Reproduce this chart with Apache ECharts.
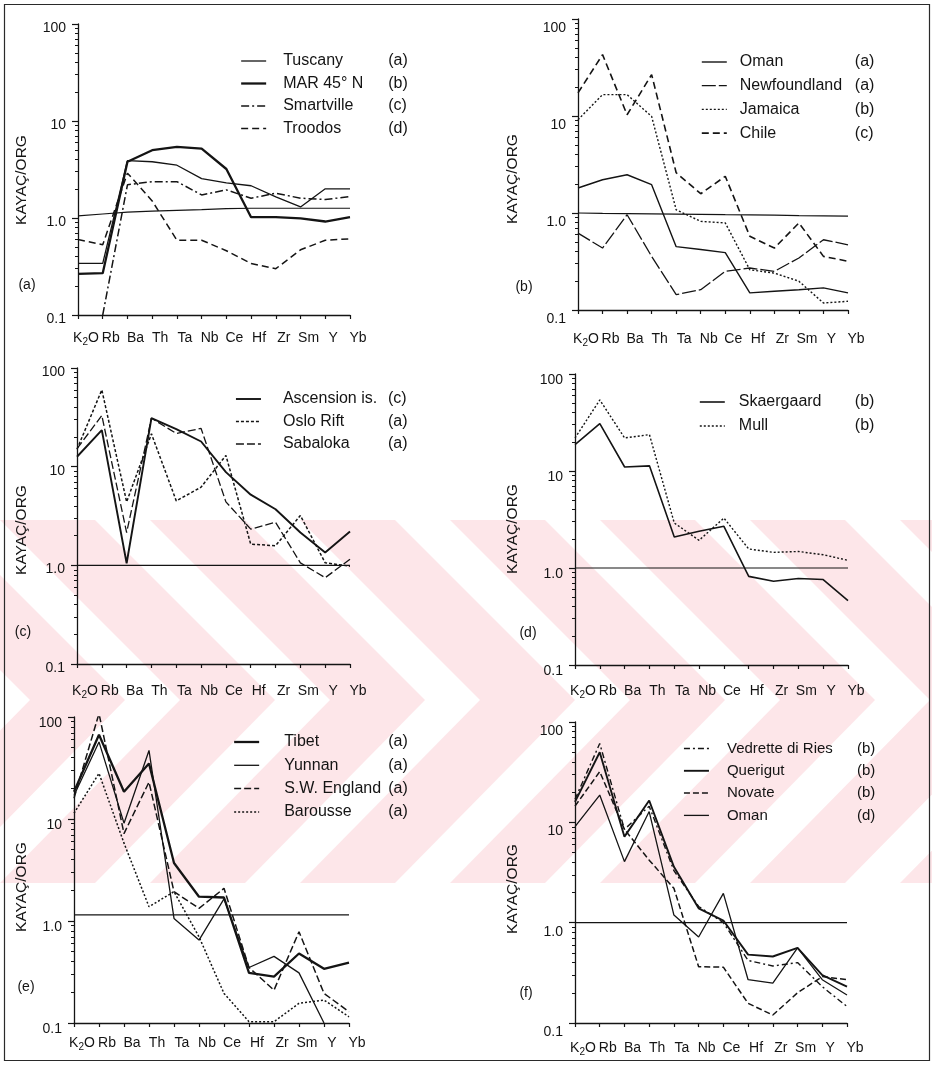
<!DOCTYPE html>
<html>
<head>
<meta charset="utf-8">
<script src="https://cdn.jsdelivr.net/npm/echarts@6/dist/echarts.min.js"></script>
<style>
  html, body { margin: 0; padding: 0; background: #ffffff; }
  #main { width: 932px; height: 1065px; }
</style>
</head>
<body>
<div id="main"></div>
<script>
// Element order along every x axis (ORG-normalised spider diagram)
const elements = ['K2O', 'Rb', 'Ba', 'Th', 'Ta', 'Nb', 'Ce', 'Hf', 'Zr', 'Sm', 'Y', 'Yb'];
// Labels for the decade ticks 0.1, 1, 10, 100
const decadeLabels = ['0.1', '1.0', '10', '100'];
// Minor tick positions on the log axes
const minorTickValues = [0.2, 0.3, 0.4, 0.5, 0.6, 0.7, 0.8, 0.9, 2, 3, 4, 5, 6, 7, 8, 9, 20, 30, 40, 50, 60, 70, 80, 90];

// (a)
const refA       = [1.05, 1.1, 1.15, 1.18, 1.2, 1.22, 1.25, 1.26, 1.26, 1.26, 1.26, 1.26];
const tuscany    = [0.34, 0.34, 3.9, 3.8, 3.5, 2.55, 2.3, 2.15, 1.65, 1.3, 2.0, 2.0];
const mar45N     = [0.265, 0.27, 3.8, 5.0, 5.4, 5.2, 3.2, 1.02, 1.02, 0.99, 0.92, 1.02];
const smartville = [null, 0.1, 2.2, 2.37, 2.37, 1.73, 1.95, 1.6, 1.8, 1.6, 1.55, 1.66];
const troodos    = [0.6, 0.53, 2.9, 1.5, 0.59, 0.59, 0.46, 0.34, 0.3, 0.47, 0.59, 0.61];

// (b)
const refB         = [1.0, 0.99, 0.985, 0.98, 0.975, 0.97, 0.96, 0.955, 0.95, 0.94, 0.935, 0.93];
const omanB        = [1.81, 2.2, 2.48, 1.96, 0.45, 0.42, 0.39, 0.15, 0.156, 0.162, 0.169, 0.15];
const newfoundland = [0.62, 0.435, 0.96, 0.357, 0.144, 0.162, 0.25, 0.271, 0.25, 0.344, 0.53, 0.47];
const jamaica      = [9.15, 16.6, 16.6, 9.9, 1.08, 0.82, 0.79, 0.26, 0.24, 0.198, 0.118, 0.123];
const chile        = [17.3, 42.9, 10.3, 26.7, 2.6, 1.58, 2.39, 0.575, 0.435, 0.79, 0.357, 0.318];

// (c)
const refC      = [1, 1, 1, 1, 1, 1, 1, 1, 1, 1, 1, 1];
const ascension = [12.6, 23.5, 1.05, 31, 24, 18, 8.8, 5.2, 3.7, 2.15, 1.35, 2.2];
const osloRift  = [15, 60, 4.4, 21.5, 4.5, 6.2, 13, 1.64, 1.58, 3.2, 1.06, 0.98];
const sabaloka  = [15.2, 33, 2.15, 31, 21.7, 24.4, 4.4, 2.33, 2.73, 1.06, 0.75, 1.15];

// (d)
const refD       = [1, 1, 1, 1, 1, 1, 1, 1, 1, 1, 1, 1];
const skaergaard = [18.7, 30.8, 11.0, 11.3, 2.09, 2.39, 2.69, 0.82, 0.73, 0.78, 0.76, 0.46];
const mull       = [21.9, 54, 21.9, 23.7, 2.91, 1.93, 3.27, 1.57, 1.45, 1.48, 1.37, 1.2];

// (e)
const refE      = [1.15, 1.15, 1.15, 1.15, 1.15, 1.15, 1.15, 1.15, 1.15, 1.15, 1.15, 1.15];
const tibet     = [18.5, 67, 18.5, 35, 3.7, 1.73, 1.7, 0.31, 0.285, 0.48, 0.34, 0.39];
const yunnan    = [17, 57, 9.1, 47, 1.06, 0.65, 1.65, 0.35, 0.45, 0.31, 0.1, null];
const swEngland = [16, 108, 7.2, 23, 1.94, 1.33, 2.09, 0.35, 0.21, 0.785, 0.195, 0.129];
const barousse  = [11.4, 28, 5.8, 1.38, 1.94, 0.7, 0.195, 0.103, 0.103, 0.156, 0.168, 0.115];

// (f)
const refF     = [1, 1, 1, 1, 1, 1, 1, 1, 1, 1, 1, 1];
const vedrette = [17, 61, 8.5, 14.5, 3.3, 1.45, 1.0, 0.42, 0.37, 0.4, 0.23, 0.146];
const querigut = [16, 50, 7.2, 16.5, 3.6, 1.39, 1.05, 0.48, 0.46, 0.56, 0.3, 0.23];
const novate   = [14.5, 32, 8.5, 4.2, 2.2, 0.364, 0.36, 0.157, 0.12, 0.2, 0.29, 0.27];
const omanF    = [9.05, 18.7, 4.06, 12.8, 1.19, 0.72, 1.96, 0.27, 0.25, 0.56, 0.27, 0.19];

const FONT = '"Liberation Sans", Arial, Helvetica, sans-serif';
const INK = '#141414';
const THIN = 1.3, THICK = 2.3;

// Layout and line styles of the six diagrams
const panels = [
  { tag: '(a)', tagPos: [27, 285], titlePos: [22, 180],
    grid: { left: 78, top: 24, width: 272, height: 291 }, yShift: 4, xMargin: 14,
    legend: { left: 240, firstRow: 62, pitch: 22.5, textX: 282, noteX: 387, fontSize: 16 }, ref: refA,
    lines: [
      { name: 'Tuscany',   note: '(a)', data: tuscany,    width: THIN,  type: 'solid' },
      { name: 'MAR 45° N', note: '(b)', data: mar45N,     width: THICK, type: 'solid' },
      { name: 'Smartville',note: '(c)', data: smartville, width: 1.5,   type: [8, 3, 2, 3] },
      { name: 'Troodos',   note: '(d)', data: troodos,    width: 1.5,   type: [7, 4] }
    ] },
  { tag: '(b)', tagPos: [524, 287], titlePos: [513, 179],
    grid: { left: 578, top: 19, width: 270, height: 291 }, yShift: 9, xMargin: 20,
    legend: { left: 701, firstRow: 63, pitch: 23.7, textX: 739, noteX: 854, fontSize: 16 }, ref: refB,
    lines: [
      { name: 'Oman',         note: '(a)', data: omanB,        width: 1.4, type: 'solid' },
      { name: 'Newfoundland', note: '(a)', data: newfoundland, width: 1.3, type: [14, 3] },
      { name: 'Jamaica',      note: '(b)', data: jamaica,      width: 1.4, type: [2, 2] },
      { name: 'Chile',        note: '(c)', data: chile,        width: 1.6, type: [7, 4] }
    ] },
  { tag: '(c)', tagPos: [23, 632], titlePos: [22, 530],
    grid: { left: 77, top: 368, width: 273, height: 296 }, yShift: 4, xMargin: 18,
    legend: { left: 235, firstRow: 400, pitch: 22.5, textX: 282, noteX: 387, fontSize: 16 }, ref: refC,
    lines: [
      { name: 'Ascension is.', note: '(c)', data: ascension, width: 1.9, type: 'solid' },
      { name: 'Oslo Rift',     note: '(a)', data: osloRift,  width: 1.5, type: [3, 2] },
      { name: 'Sabaloka',      note: '(a)', data: sabaloka,  width: 1.3, type: [8, 3] }
    ] },
  { tag: '(d)', tagPos: [528, 633], titlePos: [513, 529],
    grid: { left: 575, top: 374, width: 273, height: 291 }, yShift: 6, xMargin: 17,
    legend: { left: 699, firstRow: 403, pitch: 24, textX: 738, noteX: 854, fontSize: 16 }, ref: refD,
    lines: [
      { name: 'Skaergaard', note: '(b)', data: skaergaard, width: 1.6, type: 'solid' },
      { name: 'Mull',       note: '(b)', data: mull,       width: 1.4, type: [2, 2] }
    ] },
  { tag: '(e)', tagPos: [26, 987], titlePos: [22, 887],
    grid: { left: 74, top: 717, width: 275, height: 306 }, yShift: 6, xMargin: 11,
    legend: { left: 233, firstRow: 743, pitch: 23.3, textX: 283, noteX: 387, fontSize: 16 }, ref: refE,
    lines: [
      { name: 'Tibet',        note: '(a)', data: tibet,     width: THICK, type: 'solid' },
      { name: 'Yunnan',       note: '(a)', data: yunnan,    width: THIN,  type: 'solid' },
      { name: 'S.W. England', note: '(a)', data: swEngland, width: 1.5,   type: [7, 3] },
      { name: 'Barousse',     note: '(a)', data: barousse,  width: 1.5,   type: [2, 2] }
    ] },
  { tag: '(f)', tagPos: [526, 993], titlePos: [513, 889],
    grid: { left: 575, top: 722, width: 272, height: 301 }, yShift: 9, xMargin: 16,
    legend: { left: 683, firstRow: 750, pitch: 23.3, textX: 726, noteX: 856, fontSize: 15 }, ref: refF,
    lines: [
      { name: 'Vedrette di Ries', note: '(b)', data: vedrette, width: 1.4, type: [6, 3, 2, 3] },
      { name: 'Querigut',         note: '(b)', data: querigut, width: 1.9, type: 'solid' },
      { name: 'Novate',           note: '(b)', data: novate,   width: 1.5, type: [6, 3] },
      { name: 'Oman',             note: '(d)', data: omanF,    width: THIN, type: 'solid' }
    ] }
];

function decadeLabel(v) {
  const e = Math.round(Math.log10(v));
  return decadeLabels[e + 1] || '';
}
function elementLabel(v) {
  return v === 'K2O' ? '{a|K}{s|2}{a|O}' : '{a|' + v + '}';
}

const grids = [], xAxes = [], yAxes = [], series = [], legends = [], graphics = [];

// faint pink background band with diagonal stripes
const PINK = '#fde6e9';
for (let x0 = -300; x0 < 1000; x0 += 150) {
  graphics.push({ type: 'polygon', silent: true, z: -5,
    shape: { points: [[x0, 520], [x0 + 95, 520], [x0 + 275, 700], [x0 + 180, 700]] },
    style: { fill: PINK } });
  graphics.push({ type: 'polygon', silent: true, z: -5,
    shape: { points: [[x0 + 180, 700], [x0 + 275, 700], [x0 + 95, 883], [x0, 883]] },
    style: { fill: PINK } });
}

// outer frame
graphics.push({ type: 'rect', silent: true, z: 10,
  shape: { x: 4.5, y: 4.5, width: 925, height: 1056 },
  style: { fill: 'none', stroke: '#2a2a2a', lineWidth: 1.2 } });

panels.forEach((p, i) => {
  grids.push(Object.assign({ containLabel: false }, p.grid));

  xAxes.push({
    type: 'category', gridIndex: i, data: elements, boundaryGap: false,
    axisLine: { show: true, lineStyle: { color: INK, width: 1.3 } },
    axisTick: { show: true, interval: 0, length: 4, lineStyle: { color: INK, width: 1.2 } },
    axisLabel: {
      interval: 0, margin: p.xMargin, color: INK, formatter: elementLabel,
      padding: [0, 0, 0, 16],
      rich: {
        a: { fontFamily: FONT, fontSize: 14, color: INK, lineHeight: 18 },
        s: { fontFamily: FONT, fontSize: 10, color: INK, lineHeight: 6, verticalAlign: 'bottom' }
      }
    },
    splitLine: { show: false }
  });

  yAxes.push({
    type: 'log', logBase: 10, min: 0.1, max: 100, interval: 1, gridIndex: i, position: 'left',
    axisLine: { show: true, lineStyle: { color: INK, width: 1.3 } },
    axisTick: { show: true, length: 6, lineStyle: { color: INK, width: 1.2 } },
    axisLabel: {
      formatter: decadeLabel, color: INK, fontFamily: FONT, fontSize: 14,
      margin: 12, verticalAlign: 'top', lineHeight: p.yShift * 2
    },
    splitLine: { show: false }
  });
  yAxes.push({
    type: 'log', logBase: 10, min: 0.1, max: 100, gridIndex: i, position: 'left', offset: 0,
    axisLine: { show: false },
    axisTick: { show: true, length: 3, customValues: minorTickValues, lineStyle: { color: INK, width: 1 } },
    axisLabel: { show: false },
    splitLine: { show: false }
  });

  // normalisation reference line
  series.push({
    type: 'line', name: 'ref' + i, data: p.ref, xAxisIndex: i, yAxisIndex: 2 * i,
    symbol: 'none', silent: true, animation: false,
    itemStyle: { color: INK },
    lineStyle: { color: INK, width: 1.2, type: 'solid' }, z: 1
  });

  const notes = {};
  p.lines.forEach(l => {
    notes[l.name] = l.note;
    series.push({
      type: 'line', name: l.name, data: l.data, xAxisIndex: i, yAxisIndex: 2 * i,
      symbol: 'none', silent: true, animation: false, connectNulls: false,
      itemStyle: { color: INK },
      lineStyle: { color: INK, width: l.width, type: l.type }
    });
  });

  const L = p.legend;
  const fs = L.fontSize;
  const itemH = 16;
  legends.push({
    data: p.lines.map(l => ({ name: l.name, lineStyle: { width: l.width, type: l.type, color: INK } })),
    orient: 'vertical', selectedMode: false,
    left: L.left, top: L.firstRow - itemH / 2 - 1,
    itemWidth: 25, itemHeight: itemH, itemGap: L.pitch - itemH, padding: 0,
    itemStyle: { opacity: 0 },
    lineStyle: { width: 'inherit' },
    textStyle: {
      color: INK, fontFamily: FONT, fontSize: fs, padding: [0, 0, 0, L.textX - L.left - 30],
      rich: {
        n: { fontFamily: FONT, fontSize: fs, color: INK, width: L.noteX - L.textX },
        c: { fontFamily: FONT, fontSize: fs, color: INK }
      }
    },
    formatter: name => '{n|' + name + '}{c|' + notes[name] + '}'
  });

  graphics.push({
    type: 'text', silent: true, x: p.titlePos[0], y: p.titlePos[1], rotation: Math.PI / 2,
    style: { text: 'KAYAÇ/ORG', fontFamily: FONT, fontSize: 15.5, fill: INK,
             align: 'center', verticalAlign: 'middle' }
  });
  graphics.push({
    type: 'text', silent: true, x: p.tagPos[0], y: p.tagPos[1],
    style: { text: p.tag, fontFamily: FONT, fontSize: 14, fill: INK,
             align: 'center', verticalAlign: 'middle' }
  });
});

const chart = echarts.init(document.getElementById('main'), null, { renderer: 'canvas' });
chart.setOption({
  animation: false,
  backgroundColor: '#ffffff',
  textStyle: { fontFamily: FONT },
  grid: grids,
  xAxis: xAxes,
  yAxis: yAxes,
  legend: legends,
  series: series,
  graphic: graphics
});
</script>
</body>
</html>
